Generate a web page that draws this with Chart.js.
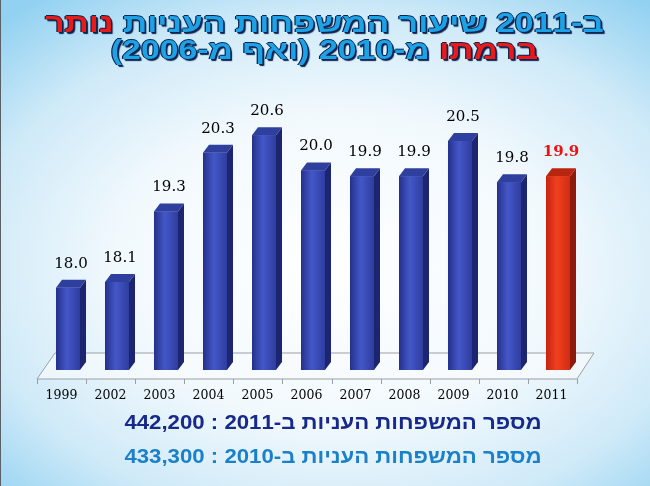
<!DOCTYPE html>
<html lang="he">
<head>
<meta charset="utf-8">
<script src="https://cdn.jsdelivr.net/npm/chart.js@4.4.1/dist/chart.umd.min.js"></script>
<style>
  html, body { margin: 0; padding: 0; }
  body {
    width: 650px; height: 486px; overflow: hidden; position: relative;
    background: radial-gradient(ellipse 75% 70% at 52% 55%, #ffffff 0%, #f2f9fd 45%, #cfeaf8 75%, #92d1f1 100%);
    box-shadow: inset 1px 0 0 #5a6068;
  }
  #wrap { position: absolute; left: 0; top: 0; width: 650px; height: 486px; }
  .title {
    position: absolute; left: 0; width: 650px; top: 10px;
    direction: rtl; text-align: center;
    font-family: "Liberation Sans", "DejaVu Sans", sans-serif; font-weight: bold;
    font-size: 27px; line-height: 27px; color: #1ea2e6;
    transform: scaleX(1.25); transform-origin: 327px 0;
    text-shadow: 1px 1px 0 #0b2350, -1px 0 0 #0b2350, 0 -1px 0 #0b2350, 1.5px 1.5px 1px #0b2350;
  }
  .title .red { color: #ea1a1a; }
  .foot {
    position: absolute; left: 0; width: 634px; padding-left: 16px; direction: rtl; text-align: center;
    font-family: "Liberation Sans", "DejaVu Sans", sans-serif; font-weight: bold; font-size: 20px;
    transform: scaleX(1.11); transform-origin: 333px 0;
  }
</style>
</head>
<body>
<div id="wrap"><canvas id="chart" width="650" height="486"></canvas></div>
<div class="title">ב-2011 שיעור המשפחות העניות <span class="red">נותר</span><br><span class="red">ברמתו</span> מ-2010 (ואף מ-2006)</div>
<div class="foot" style="top:411px;color:#17298a;">מספר המשפחות העניות ב-2011 : 442,200</div>
<div class="foot" style="top:445px;color:#1c80c8;">מספר המשפחות העניות ב-2010 : 433,300</div>
<script>
// datos
const years = ['1999', '2002', '2003', '2004', '2005', '2006', '2007', '2008', '2009', '2010', '2011'];
const povertyRate = [18.0, 18.1, 19.3, 20.3, 20.6, 20.0, 19.9, 19.9, 20.5, 19.8, 19.9];
const valueLabels = ['18.0', '18.1', '19.3', '20.3', '20.6', '20.0', '19.9', '19.9', '20.5', '19.8', '19.9'];
const highlightYear = '2011';
const yMin = 16.6;
const yMax = 21.2;

const blue = { front: ['#24318a', '#4457c8', '#2e3d9e'], side: '#1c2670', top: '#2f3f9e' };
const red = { front: ['#c42410', '#f0401e', '#d02c14'], side: '#8e1a0c', top: '#b8260f' };
const depth = { dx: 6, dy: 8 };

// suelo 3D y marcas del eje
const floorPlugin = {
  id: 'floor3d',
  beforeDatasetsDraw(chart) {
    const { ctx } = chart;
    const x = chart.scales.x;
    const y = chart.scales.y;
    const frontY = y.bottom + 9, backY = y.bottom - 17;
    const fl = x.left - 6.5, fr = x.right - 5.5;
    ctx.save();
    ctx.beginPath();
    ctx.moveTo(fl, frontY);
    ctx.lineTo(fr, frontY);
    ctx.lineTo(fr + 17, backY);
    ctx.lineTo(fl + 18, backY);
    ctx.closePath();
    ctx.fillStyle = 'rgba(250,252,254,0.6)';
    ctx.fill();
    ctx.strokeStyle = '#9a9fa6';
    ctx.lineWidth = 1;
    ctx.stroke();
    const step = (fr - fl) / years.length;
    ctx.beginPath();
    for (let i = 0; i <= years.length; i++) {
      const px = Math.round(fl + i * step) + 0.5;
      ctx.moveTo(px, frontY);
      ctx.lineTo(px, frontY + 5);
    }
    ctx.stroke();
    ctx.restore();
  }
};

// caras laterales, tapa y etiquetas de valor
const barsPlugin = {
  id: 'bars3d',
  afterDatasetsDraw(chart) {
    const { ctx } = chart;
    const meta = chart.getDatasetMeta(0);
    meta.data.forEach((bar, i) => {
      const c = years[i] === highlightYear ? red : blue;
      const half = bar.width / 2;
      const l = bar.x - half, r = bar.x + half, t = bar.y;
      const b = Math.min(bar.base, chart.scales.y.bottom);
      ctx.save();
      const g = ctx.createLinearGradient(l, 0, r, 0);
      g.addColorStop(0, c.front[0]);
      g.addColorStop(0.45, c.front[1]);
      g.addColorStop(1, c.front[2]);
      ctx.fillStyle = g;
      ctx.fillRect(l, t, r - l, b - t);
      // lado
      ctx.beginPath();
      ctx.moveTo(r, t);
      ctx.lineTo(r + depth.dx, t - depth.dy);
      ctx.lineTo(r + depth.dx, b - depth.dy);
      ctx.lineTo(r, b);
      ctx.closePath();
      ctx.fillStyle = c.side;
      ctx.fill();
      // tapa
      ctx.beginPath();
      ctx.moveTo(l, t);
      ctx.lineTo(l + depth.dx, t - depth.dy);
      ctx.lineTo(r + depth.dx, t - depth.dy);
      ctx.lineTo(r, t);
      ctx.closePath();
      ctx.fillStyle = c.top;
      ctx.fill();
      // etiqueta
      const isHi = years[i] === highlightYear;
      ctx.font = (isHi ? 'bold ' : '') + '15px "DejaVu Serif"';
      ctx.fillStyle = isHi ? '#ee1111' : '#000000';
      ctx.textAlign = 'center';
      ctx.textBaseline = 'middle';
      ctx.fillText(valueLabels[i], bar.x + 3, t - 24);
      ctx.restore();
    });
  }
};

new Chart(document.getElementById('chart'), {
  type: 'bar',
  data: {
    labels: years,
    datasets: [{
      data: povertyRate,
      base: yMin,
      backgroundColor: years.map(y => y === highlightYear ? red.front[1] : blue.front[1]),
      borderWidth: 0,
      barPercentage: 0.49,
      categoryPercentage: 1.0
    }]
  },
  options: {
    responsive: false,
    animation: false,
    layout: { padding: { left: 43.5, right: 67.5, top: 100, bottom: 73 } },
    scales: {
      x: {
        grid: { display: false },
        border: { display: false },
        ticks: {
          color: '#000',
          font: { family: 'DejaVu Serif', size: 12.5 },
          padding: 10,
          labelOffset: -6.5,
          maxRotation: 0,
          autoSkip: false
        }
      },
      y: { display: false, min: yMin, max: yMax }
    },
    plugins: {
      legend: { display: false },
      tooltip: { enabled: false },
      title: { display: false }
    }
  },
  plugins: [floorPlugin, barsPlugin]
});
</script>
</body>
</html>
